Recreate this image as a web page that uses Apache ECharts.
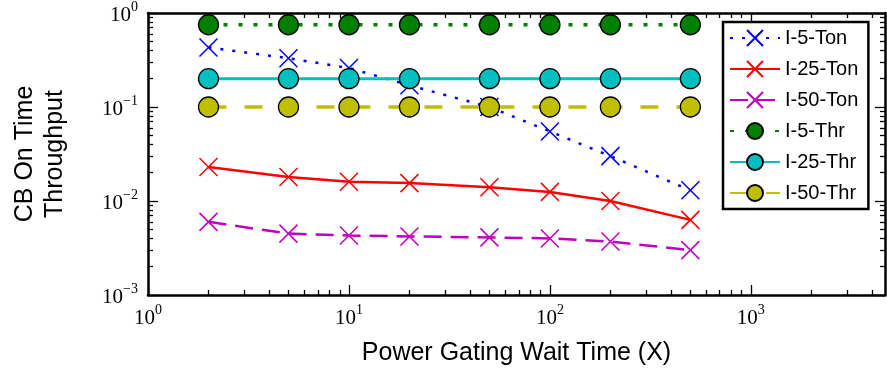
<!DOCTYPE html>
<html>
<head>
<meta charset="utf-8">
<script src="https://cdn.jsdelivr.net/npm/echarts@6/dist/echarts.min.js"></script>
<style>
html,body{margin:0;padding:0;background:#fff;}
#chart{width:887px;height:377px;}
</style>
</head>
<body>
<div id="chart"></div>
<script>
// ---- data ----
const waitTimes = [2, 5, 10, 20, 50, 100, 200, 500];
const seriesNames = ['I-5-Ton', 'I-25-Ton', 'I-50-Ton', 'I-5-Thr', 'I-25-Thr', 'I-50-Thr'];
const i5Ton  = [0.43, 0.33, 0.26, 0.17, 0.10, 0.055, 0.030, 0.013];
const i25Ton = [0.023, 0.018, 0.016, 0.0155, 0.014, 0.0125, 0.0100, 0.0063];
const i50Ton = [0.0060, 0.0045, 0.0043, 0.0042, 0.0041, 0.0040, 0.0037, 0.0030];
const i5Thr  = [0.75, 0.75, 0.75, 0.75, 0.75, 0.75, 0.75, 0.75];
const i25Thr = [0.20, 0.20, 0.20, 0.20, 0.20, 0.20, 0.20, 0.20];
const i50Thr = [0.10, 0.10, 0.10, 0.10, 0.10, 0.10, 0.10, 0.10];
const xMajorTicks = [1, 10, 100, 1000];
const xMinorTicks = [2,3,4,5,6,7,8,9,20,30,40,50,60,70,80,90,200,300,400,500,600,700,800,900,2000,3000,4000];
const yMajorTicks = [0.001, 0.01, 0.1, 1];
const yMinorTicks = [0.002,0.003,0.004,0.005,0.006,0.007,0.008,0.009,0.02,0.03,0.04,0.05,0.06,0.07,0.08,0.09,0.2,0.3,0.4,0.5,0.6,0.7,0.8,0.9];
const xMin = 1, xMax = 4650, yMin = 0.001, yMax = 1;

// ---- build ----
const pairs = arr => waitTimes.map((x, i) => [x, arr[i]]);
const XPATH = 'path://M0,0L10,10M0,10L10,0';
const sans = 'Liberation Sans';
const serif = 'Liberation Serif';

function powLabel(v) {
  const e = Math.round(Math.log10(v));
  const s = e < 0 ? '\u2212' + (-e) : String(e);
  return '{b|10}{s|' + s + '}';
}
const richPow = {
  b: {fontFamily: serif, fontSize: 21, color: '#000', lineHeight: 26, verticalAlign: 'bottom'},
  s: {fontFamily: serif, fontSize: 14, color: '#000', lineHeight: 26, verticalAlign: 'top'}
};

function xAxisDef(pos, major, withLabel) {
  return {
    type: 'log', logBase: 10, min: xMin, max: xMax, position: pos,
    axisLine: {show: major, onZero: false, lineStyle: {color: '#000', width: 2.5}},
    axisTick: {show: true, inside: true, length: major ? 10 : 5,
      customValues: major ? xMajorTicks : xMinorTicks, lineStyle: {color: '#000', width: 1.3}},
    axisLabel: withLabel ? {show: true, customValues: xMajorTicks, formatter: powLabel, rich: richPow, margin: 8} : {show: false},
    splitLine: {show: false},
    minorTick: {show: false},
    name: withLabel ? 'Power Gating Wait Time (X)' : '',
    nameLocation: 'middle', nameGap: 46,
    nameTextStyle: {fontFamily: sans, fontSize: 25, color: '#000'}
  };
}
function yAxisDef(pos, major, withLabel) {
  return {
    type: 'log', logBase: 10, min: yMin, max: yMax, position: pos,
    axisLine: {show: major, onZero: false, lineStyle: {color: '#000', width: 2.5}},
    axisTick: {show: true, inside: true, length: major ? 10 : 5,
      customValues: major ? yMajorTicks : yMinorTicks, lineStyle: {color: '#000', width: 1.3}},
    axisLabel: withLabel ? {show: true, customValues: yMajorTicks, formatter: powLabel, rich: richPow, margin: 10} : {show: false},
    splitLine: {show: false},
    minorTick: {show: false},
    name: withLabel ? 'CB On Time\nThroughput' : '',
    nameLocation: 'middle', nameGap: 78, nameRotate: 90,
    nameTextStyle: {fontFamily: sans, fontSize: 25, color: '#000', lineHeight: 30, align: 'center'}
  };
}

function tonSeries(name, data, color, dash) {
  return {
    name, type: 'line', data: pairs(data), xAxisIndex: 0, yAxisIndex: 0,
    symbol: XPATH, symbolSize: 18, symbolKeepAspect: true,
    itemStyle: {color: color, borderColor: color, borderWidth: 1.5},
    lineStyle: {color: color, width: 2.5, type: dash, cap: 'butt'},
    showSymbol: true, animation: false, z: 2
  };
}
function thrSeries(name, data, color, dash, w) {
  return {
    name, type: 'line', data: pairs(data), xAxisIndex: 0, yAxisIndex: 0,
    symbol: 'circle', symbolSize: 20,
    itemStyle: {color: color, borderColor: '#000', borderWidth: 1.3},
    lineStyle: {color: color, width: w, type: dash, cap: 'butt'},
    showSymbol: true, animation: false, z: 3
  };
}

const chart = echarts.init(document.getElementById('chart'), null, {renderer: 'canvas'});
chart.setOption({
  animation: false,
  backgroundColor: '#fff',
  grid: {left: 148, right: 2, top: 10, bottom: 82, containLabel: false},
  xAxis: [
    xAxisDef('bottom', true, true),
    xAxisDef('bottom', false, false),
    xAxisDef('top', true, false),
    xAxisDef('top', false, false)
  ],
  yAxis: [
    yAxisDef('left', true, true),
    yAxisDef('left', false, false),
    yAxisDef('right', true, false),
    yAxisDef('right', false, false)
  ],
  legend: {
    orient: 'vertical', left: 723, top: 22,
    data: seriesNames,
    backgroundColor: '#fff', borderColor: '#000', borderWidth: 2.5,
    padding: [6, 10, 6, 6],
    itemWidth: 50, itemHeight: 20, itemGap: 11,
    textStyle: {fontFamily: sans, fontSize: 20, color: '#000'},
    selectedMode: false
  },
  series: [
    tonSeries('I-5-Ton', i5Ton, '#0000ff', [3, 9]),
    tonSeries('I-25-Ton', i25Ton, '#ff0000', 'solid'),
    tonSeries('I-50-Ton', i50Ton, '#bf00bf', [18, 9]),
    thrSeries('I-5-Thr', i5Thr, '#007f00', [4, 11], 3.5),
    thrSeries('I-25-Thr', i25Thr, '#00bfbf', 'solid', 3),
    thrSeries('I-50-Thr', i50Thr, '#bfbf00', [18, 18], 3.5)
  ]
});
</script>
</body>
</html>
